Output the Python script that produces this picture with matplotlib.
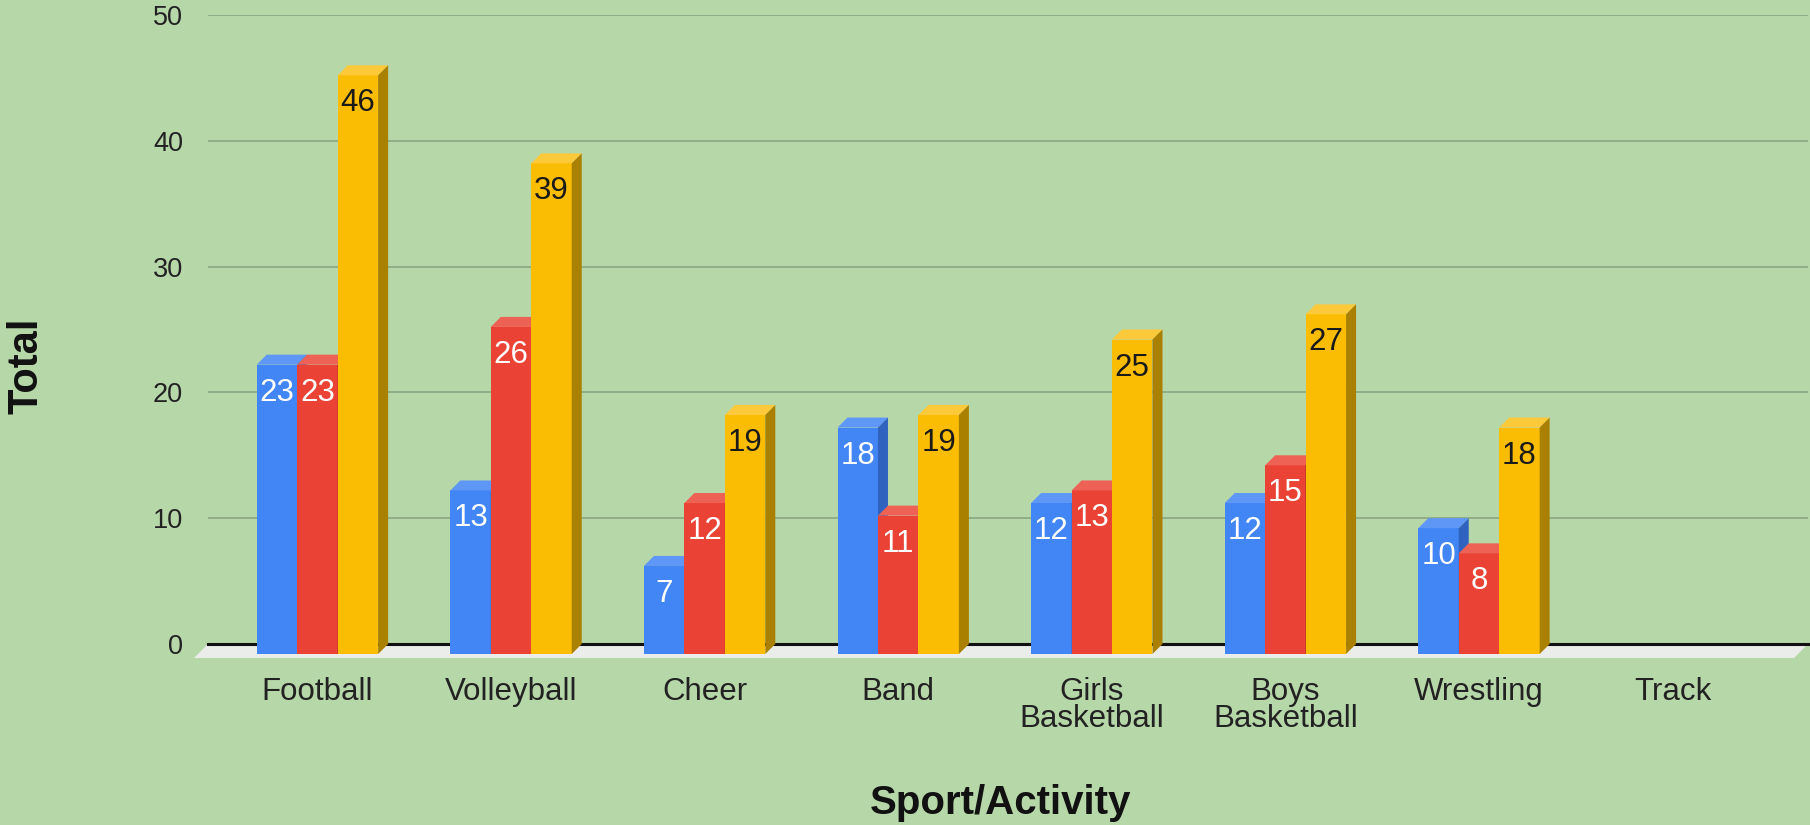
import matplotlib.pyplot as plt
import numpy as np
from matplotlib.patches import Polygon
from matplotlib.transforms import ScaledTranslation

plt.rcParams["font.family"] = ["Liberation Sans", "DejaVu Sans"]

# Chart data
categories = ["Football", "Volleyball", "Cheer", "Band", "Girls\nBasketball",
              "Boys\nBasketball", "Wrestling", "Track"]
series_a = [23, 13, 7, 18, 12, 12, 10, np.nan]
series_b = [23, 26, 12, 11, 13, 15, 8, np.nan]
series_c = [46, 39, 19, 19, 25, 27, 18, np.nan]
y_ticks = [0, 10, 20, 30, 40, 50]

# Colours: front, top, side, label
styles = [
    ("#4285f4", "#5e97f6", "#3063c0", "white"),
    ("#ea4335", "#ee6155", "#ab3024", "white"),
    ("#fbbc04", "#fcc93a", "#aa8000", "#1a1a1a"),
]
bg = "#b6d7a8"

W, H, DPI = 1810, 825, 100
fig = plt.figure(figsize=(W / DPI, H / DPI), dpi=DPI, facecolor=bg)

# axes = back plane of the 3D chart
left_px, right_px, top_px, base_px = 208, 1808, 15, 644
ax = fig.add_axes([left_px / W, (H - base_px) / H,
                   (right_px - left_px) / W, (base_px - top_px) / H])
ax.set_facecolor(bg)
x_lo, x_hi = -0.617, 7.648
ax.set_xlim(x_lo, x_hi)
ax.set_ylim(0, 50)
for s in ax.spines.values():
    s.set_visible(False)
ax.set_xticks([])
ax.set_yticks(y_ticks)
ax.tick_params(axis="y", length=0, pad=18, labelsize=19.5, labelcolor="#222222")
for t in y_ticks[1:]:
    ax.axhline(t, color="#8eaa86", lw=1.3, zorder=0)

# pixel -> data conversion for the depth offset
px_x = (x_hi - x_lo) / (right_px - left_px)
px_y = 50 / (base_px - top_px)
depth = 10
dx, dy = depth * px_x, depth * px_y
fdx, fdy = 14 * px_x, 14 * px_y

# floor
ax.add_patch(Polygon([(x_lo, 0), (x_hi, 0), (x_hi - fdx, -fdy), (x_lo - fdx, -fdy)],
                     closed=True, facecolor="#ebedea", edgecolor="none",
                     clip_on=False, zorder=1))
ax.plot([x_lo, x_hi], [0, 0], color="#111111", lw=2.2, clip_on=False, zorder=2)

x = np.arange(len(categories))
bw = 0.209
labels = []
for i, c in enumerate(x):
    for j, vals in enumerate([series_a, series_b, series_c]):
        h = vals[i]
        if np.isnan(h):
            continue
        front, topc, side, lc = styles[j]
        # back-plane left/right edges; the front face sits dx, dy lower-left
        xl = c + (j - 1.5) * bw
        xr = xl + bw
        z = 3 + i * 3 + j
        ax.add_patch(Polygon([(xl - dx, -dy), (xr - dx, -dy), (xr - dx, h - dy), (xl - dx, h - dy)],
                             facecolor=front, edgecolor="none", clip_on=False, zorder=z))
        ax.add_patch(Polygon([(xl - dx, h - dy), (xr - dx, h - dy), (xr, h), (xl, h)],
                             facecolor=topc, edgecolor="none", clip_on=False, zorder=z))
        ax.add_patch(Polygon([(xr - dx, -dy), (xr, 0), (xr, h), (xr - dx, h - dy)],
                             facecolor=side, edgecolor="none", clip_on=False, zorder=z))
        labels.append(((xl + xr) / 2 - dx, h - dy, str(int(h)), lc))

for lx, ly, txt, lc in labels:
    ax.text(lx, ly, txt, ha="center", va="center", fontsize=22.5, color=lc,
            transform=ax.transData + ScaledTranslation(0, -0.28, fig.dpi_scale_trans),
            zorder=50, clip_on=False)

# category labels under the front plane
for c, name in zip(x, categories):
    ax.text(c - dx, 0, name, ha="center", va="top", fontsize=22.5, color="#222222",
            linespacing=0.88,
            transform=ax.get_xaxis_transform() + ScaledTranslation(0, -0.33, fig.dpi_scale_trans),
            clip_on=False)

fig.text(26 / W, 1 - 366 / H, "Total", rotation=90, ha="center", va="center",
         fontsize=30, fontweight="bold", color="#111111")
fig.text(1000 / W, 1 - 803 / H, "Sport/Activity", ha="center", va="center",
         fontsize=29, fontweight="bold", color="#111111")

fig.savefig("out.png", dpi=DPI, facecolor=bg)
